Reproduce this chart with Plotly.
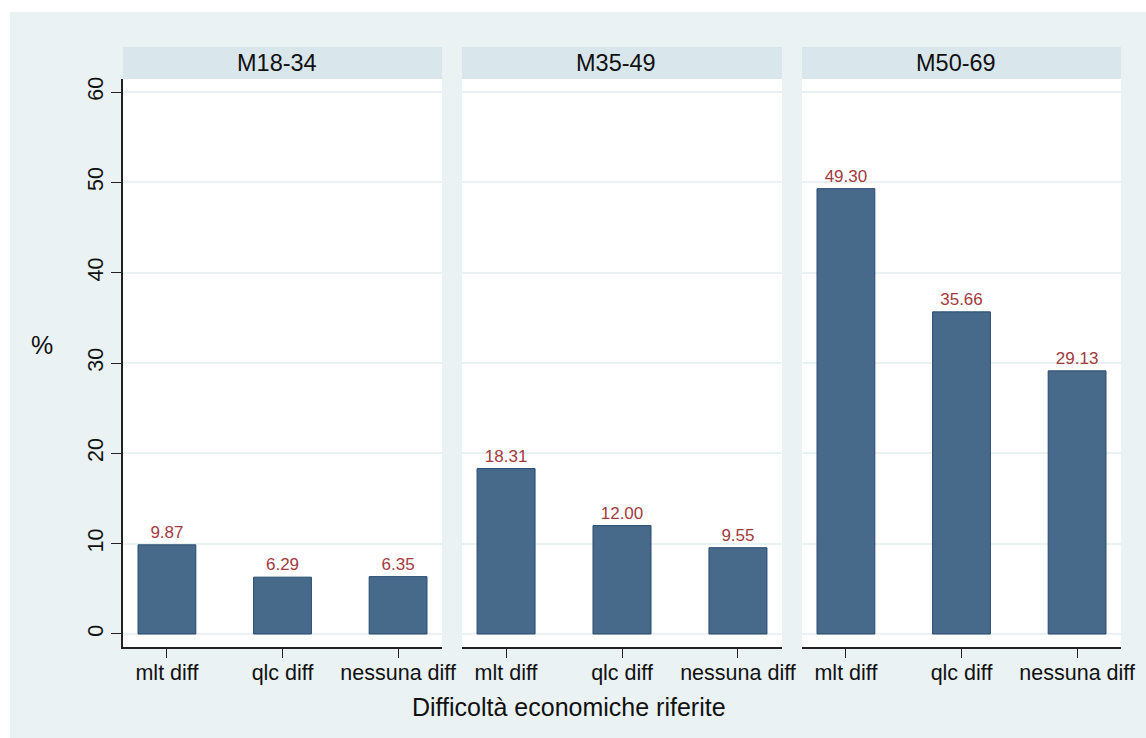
import plotly.graph_objects as go

# ---- data ----
categories = ["mlt diff", "qlc diff", "nessuna diff"]
groups = ["M18-34", "M35-49", "M50-69"]
values_m18_34 = [9.87, 6.29, 6.35]
values_m35_49 = [18.31, 12.00, 9.55]
values_m50_69 = [49.30, 35.66, 29.13]
y_ticks = [0, 10, 20, 30, 40, 50, 60]
x_title = "Difficoltà economiche riferite"
y_title = "%"

series = [values_m18_34, values_m35_49, values_m50_69]

# ---- style ----
W, H = 1146, 738
BG = "#EAF2F3"
STRIP = "#D9E6EB"
BAR = "#486A8A"
BAR_LINE = "#24496F"
LABEL = "#A23A3E"
GRID = "#EAF2F3"
FONT = "Liberation Sans, Arial, Helvetica, sans-serif"

panels_px = [(123, 442), (462, 782), (802, 1121)]
top_px, bottom_px = 79, 647
strip_top_px = 47

def px_x(p):
    return p / W

def px_y(p):
    return (H - p) / H

fig = go.Figure()

for i, (g, vals) in enumerate(zip(groups, series)):
    ax = "" if i == 0 else str(i + 1)
    fig.add_trace(go.Bar(
        x=categories, y=vals,
        xaxis="x" + ax, yaxis="y" + ax,
        width=0.5,
        marker=dict(color=BAR, line=dict(color=BAR_LINE, width=1)),
        text=[f"{v:.2f}" for v in vals],
        textposition="outside",
        textfont=dict(color=LABEL, size=17, family=FONT),
        cliponaxis=False,
        showlegend=False,
        hoverinfo="skip",
    ))
    l, r = panels_px[i]
    xkey = "xaxis" + ax
    ykey = "yaxis" + ax
    fig.layout[xkey] = dict(
        domain=[px_x(l), px_x(r)],
        anchor="y" + ax,
        type="category",
        range=[-0.38, 2.38],
        showline=True, linecolor="#222222", linewidth=1.5,
        ticks="outside", ticklen=9, tickwidth=1.3, tickcolor="#222222",
        ticklabelstandoff=-4,
        tickfont=dict(size=21.5, color="#111111", family=FONT),
        showgrid=False, zeroline=False,
        fixedrange=True,
    )
    ydict = dict(
        domain=[px_y(bottom_px), px_y(top_px)],
        anchor="x" + ax,
        range=[-1.44, 61.44],
        tickvals=y_ticks,
        showgrid=True, gridcolor=GRID, gridwidth=1.5,
        zeroline=False,
        fixedrange=True,
    )
    if i == 0:
        ydict.update(
            showline=True, linecolor="#222222", linewidth=1.5,
            ticks="outside", ticklen=10, tickwidth=1.3, tickcolor="#222222",
            tickangle=-90,
            tickfont=dict(size=21.5, color="#111111", family=FONT),
        )
    else:
        ydict.update(matches="y", showline=False, showticklabels=False, ticks="")
    fig.layout[ykey] = ydict

shapes = [
    # white outer border strips
    dict(type="rect", xref="paper", yref="paper", x0=0, x1=1, y0=px_y(12), y1=1,
         fillcolor="white", line=dict(width=0), layer="below"),
    dict(type="rect", xref="paper", yref="paper", x0=0, x1=px_x(10), y0=0, y1=1,
         fillcolor="white", line=dict(width=0), layer="below"),
]
annotations = []
for i, g in enumerate(groups):
    l, r = panels_px[i]
    shapes.append(dict(type="rect", xref="paper", yref="paper",
                       x0=px_x(l), x1=px_x(r), y0=px_y(top_px), y1=px_y(strip_top_px),
                       fillcolor=STRIP, line=dict(width=0), layer="below"))
    annotations.append(dict(text=g, xref="paper", yref="paper",
                            x=px_x((l + r) / 2 - 6), y=(px_y(top_px) + px_y(strip_top_px)) / 2,
                            xanchor="center", yanchor="middle", showarrow=False,
                            font=dict(size=23.5, color="#111111", family=FONT)))

annotations.append(dict(text=x_title, xref="paper", yref="paper",
                        x=px_x(569), y=px_y(707), xanchor="center", yanchor="middle",
                        showarrow=False, font=dict(size=25, color="#111111", family=FONT)))
annotations.append(dict(text=y_title, xref="paper", yref="paper",
                        x=px_x(42), y=px_y(345), xanchor="center", yanchor="middle",
                        showarrow=False, font=dict(size=25, color="#111111", family=FONT)))

fig.update_layout(
    width=W, height=H,
    margin=dict(l=0, r=0, t=0, b=0, autoexpand=False),
    paper_bgcolor=BG, plot_bgcolor="white",
    shapes=shapes, annotations=annotations,
    font=dict(family=FONT),
    bargap=0.5,
)

fig.write_html("out.html", config={"displayModeBar": False},
               post_script="document.body.style.margin='0';document.body.style.overflow='hidden';")
